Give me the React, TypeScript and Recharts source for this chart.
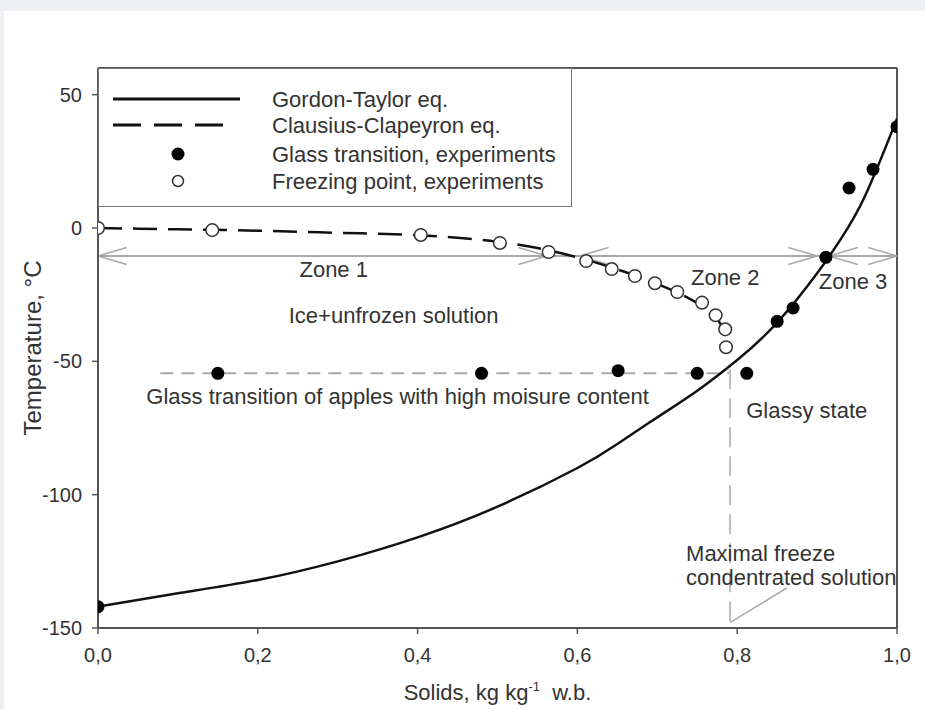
import React from "react";
import {
  ComposedChart,
  Line,
  Scatter,
  XAxis,
  YAxis,
  ReferenceLine,
  ReferenceDot,
} from "recharts";

// Gordon-Taylor fit (solid)
const gtSolids = [0, 0.1, 0.2, 0.3, 0.4, 0.5, 0.6, 0.65, 0.7, 0.75, 0.8, 0.85, 0.9, 0.93, 0.96, 1.0];
const gtTemp = [-142, -137, -132, -125, -116, -104.5, -90, -81, -71, -61, -49.5, -35.5, -17, -4, 12, 41];

// Clausius-Clapeyron fit (dashed)
const ccSolids = [0, 0.1, 0.2, 0.3, 0.4, 0.5, 0.55, 0.6, 0.65, 0.7, 0.74, 0.76, 0.775, 0.785, 0.79];
const ccTemp = [0, -0.5, -1, -1.8, -2.7, -5.2, -7.5, -11, -15.5, -21, -26.5, -30, -34, -40, -46];

// Glass transition, experiments (filled)
const tgSolids = [0, 0.15, 0.48, 0.651, 0.75, 0.812, 0.85, 0.87, 0.911, 0.94, 0.97, 1.0];
const tgTemp = [-142, -54.5, -54.5, -53.5, -54.5, -54.5, -35, -30, -11, 15, 22, 38];

// Freezing point, experiments (open)
const fpSolids = [0, 0.143, 0.404, 0.503, 0.564, 0.611, 0.643, 0.672, 0.697, 0.725, 0.756, 0.773, 0.785, 0.786];
const fpTemp = [0, -0.8, -2.6, -5.6, -9, -12.4, -15.4, -18, -20.7, -24, -28, -32.7, -38, -44.7];

// zone arrows on the T = -10.5 line: [left tip, right tip]
const ZONE_T = -10.5;
const zones = [
  [0, 0.562],
  [0.603, 0.9],
  [0.915, 1.0],
];
const ARROW_DX = 0.036;
const ARROW_DT = 3.2;

const xTicks = [0, 0.2, 0.4, 0.6, 0.8, 1.0];
const yTicks = [-150, -100, -50, 0, 50];

const legendLabels = [
  "Gordon-Taylor eq.",
  "Clausius-Clapeyron eq.",
  "Glass transition, experiments",
  "Freezing point, experiments",
];

const FONT = "'Liberation Sans', Arial, sans-serif";
const INK = "#333";
const GRAY = "#a9a9a9";
const AXIS = "#555";

const pts = (xs: number[], ys: number[]) => xs.map((x, i) => ({ x, t: ys[i] }));
const gtData = pts(gtSolids, gtTemp);
const ccData = pts(ccSolids, ccTemp);
const tgData = pts(tgSolids, tgTemp);
const fpData = pts(fpSolids, fpTemp);

function XTitle(props: any) {
  const vb = props.viewBox || {};
  const cx = vb.x + vb.width / 2;
  return (
    <text x={cx} y={vb.y + 72} textAnchor="middle" fill={INK} fontSize={22} fontFamily={FONT}>
      Solids, kg kg
      <tspan dy={-9} fontSize={13}>-1</tspan>
      <tspan dy={9}>{"\u00a0 w.b."}</tspan>
    </text>
  );
}

function note(x: number, t: number, value: string, position: any = "center") {
  return (
    <ReferenceDot
      key={value}
      x={x}
      y={t}
      r={0}
      stroke="none"
      fill="none"
      label={{ value, position, offset: 0, fill: INK, fontSize: 22, fontFamily: FONT }}
    />
  );
}

export default function App() {
  return (
    <div style={{ position: "absolute", left: 0, top: 0, width: 925, height: 709, background: "#eff0f3", fontFamily: FONT, overflow: "hidden" }}>
      <div style={{ position: "absolute", left: 4, top: 11, right: 0, bottom: 0, background: "#fff" }} />
      <div style={{ position: "absolute", left: 0, top: 0 }}>
        <ComposedChart width={925} height={709} margin={{ top: 68, right: 28, bottom: 51, left: 24 }}>
          <XAxis
            type="number"
            dataKey="x"
            domain={[0, 1]}
            ticks={xTicks}
            allowDataOverflow
            tickFormatter={(v: number) => v.toFixed(1).replace(".", ",")}
            height={30}
            tickSize={6}
            tickMargin={14}
            tick={{ fill: INK, fontSize: 20, fontFamily: FONT }}
            axisLine={{ stroke: AXIS, strokeWidth: 2 }}
            tickLine={{ stroke: AXIS, strokeWidth: 1.5 }}
            label={<XTitle />}
          />
          <YAxis
            type="number"
            domain={[-150, 60]}
            ticks={yTicks}
            allowDataOverflow
            width={74}
            tickSize={6}
            tickMargin={10}
            tick={{ fill: INK, fontSize: 20, fontFamily: FONT }}
            axisLine={{ stroke: AXIS, strokeWidth: 2 }}
            tickLine={{ stroke: AXIS, strokeWidth: 1.5 }}
            label={{
              value: "Temperature, \u00b0C",
              angle: -90,
              position: "insideLeft",
              offset: 8,
              fill: INK,
              fontSize: 24,
              fontFamily: FONT,
              style: { textAnchor: "middle" },
            }}
          />

          {/* frame: top and right */}
          <ReferenceLine y={60} stroke={AXIS} strokeWidth={2} />
          <ReferenceLine x={1} stroke={AXIS} strokeWidth={2} />

          {/* zone line with open arrowheads */}
          <ReferenceLine y={ZONE_T} stroke={GRAY} strokeWidth={2} />
          {zones.flatMap(([a, b], i) => [
            <ReferenceLine key={`la${i}`} segment={[{ x: a, y: ZONE_T }, { x: a + ARROW_DX, y: ZONE_T + ARROW_DT }]} stroke={GRAY} strokeWidth={1.5} />,
            <ReferenceLine key={`lb${i}`} segment={[{ x: a, y: ZONE_T }, { x: a + ARROW_DX, y: ZONE_T - ARROW_DT }]} stroke={GRAY} strokeWidth={1.5} />,
            <ReferenceLine key={`ra${i}`} segment={[{ x: b, y: ZONE_T }, { x: b - ARROW_DX, y: ZONE_T + ARROW_DT }]} stroke={GRAY} strokeWidth={1.5} />,
            <ReferenceLine key={`rb${i}`} segment={[{ x: b, y: ZONE_T }, { x: b - ARROW_DX, y: ZONE_T - ARROW_DT }]} stroke={GRAY} strokeWidth={1.5} />,
          ])}

          {/* high-moisture glass transition level and maximal freeze concentration */}
          <ReferenceLine segment={[{ x: 0.078, y: -54.5 }, { x: 0.79, y: -54.5 }]} stroke={GRAY} strokeWidth={2} strokeDasharray="13 8" />
          <ReferenceLine segment={[{ x: 0.791, y: -53 }, { x: 0.791, y: -150 }]} stroke={GRAY} strokeWidth={1.5} strokeDasharray="20 9" />
          <ReferenceLine segment={[{ x: 0.791, y: -148 }, { x: 0.862, y: -135 }]} stroke={GRAY} strokeWidth={1.5} />

          <Line data={gtData} dataKey="t" type="natural" stroke="#111" strokeWidth={2.5} dot={false} activeDot={false} isAnimationActive={false} />
          <Line data={ccData} dataKey="t" type="monotone" stroke="#111" strokeWidth={2.5} strokeDasharray="24 11" dot={false} activeDot={false} isAnimationActive={false} />
          <Scatter
            data={tgData}
            dataKey="t"
            isAnimationActive={false}
            shape={(p: any) => <circle cx={p.cx} cy={p.cy} r={6.5} fill="#000" />}
          />
          <Scatter
            data={fpData}
            dataKey="t"
            isAnimationActive={false}
            shape={(p: any) => <circle cx={p.cx} cy={p.cy} r={6.3} fill="#fff" stroke="#333" strokeWidth={1.5} />}
          />

          {note(0.295, -15.4, "Zone 1")}
          {note(0.785, -18.4, "Zone 2")}
          {note(0.945, -20, "Zone 3")}
          {note(0.37, -32.7, "Ice+unfrozen solution")}
          {note(0.375, -63, "Glass transition of apples with high moisure content")}
          {note(0.887, -68.4, "Glassy state")}
          {note(0.736, -121.8, "Maximal freeze", "right")}
          {note(0.736, -130.8, "condentrated solution", "right")}
        </ComposedChart>
      </div>

      {/* legend box */}
      <div style={{ position: "absolute", left: 98, top: 68, width: 474, height: 139, background: "#fff", border: "1.5px solid #777", boxSizing: "border-box" }}>
        <svg width={471} height={136} style={{ display: "block" }}>
          <line x1={14} x2={141} y1={30} y2={30} stroke="#111" strokeWidth={3} />
          <line x1={14} x2={130} y1={56} y2={56} stroke="#111" strokeWidth={3} strokeDasharray="28 13" />
          <circle cx={79} cy={85} r={6.5} fill="#000" />
          <circle cx={79} cy={112} r={5.5} fill="#fff" stroke="#333" strokeWidth={1.5} />
          {legendLabels.map((s, i) => (
            <text key={s} x={173} y={[30, 56, 85, 112][i]} dominantBaseline="central" fill={INK} fontSize={22} fontFamily={FONT}>
              {s}
            </text>
          ))}
        </svg>
      </div>
    </div>
  );
}
